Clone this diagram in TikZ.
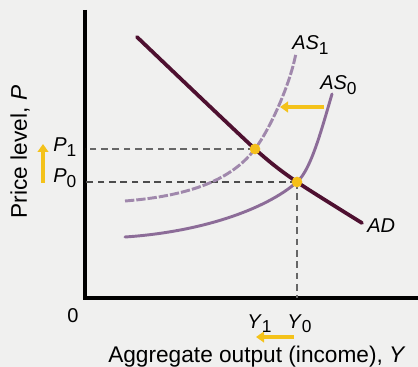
\documentclass[tikz,border=0pt]{standalone}
\usepackage{fontspec}
\setmainfont{Liberation Sans}
\usetikzlibrary{arrows.meta}
\definecolor{bgpaper}{HTML}{F0F0EF}
\definecolor{adcol}{HTML}{4E1030}
\definecolor{ascol}{HTML}{8C6C98}
\definecolor{asshift}{HTML}{A088AC}
\definecolor{shiftyel}{HTML}{F4C21A}
\newcommand{\sublab}[2]{\textit{#1}\raisebox{-0.45ex}{\fontsize{13}{14}\selectfont #2}}
\tikzset{
  axs/.style={line width=3pt, black},
  adln/.style={line width=2.8pt, adcol, line cap=round},
  asln/.style={line width=2.2pt, ascol, line cap=round},
  asdsh/.style={line width=2.2pt, asshift, dash pattern=on 7pt off 1.5pt},
  guide/.style={gray!80!black, line width=0.9pt, dash pattern=on 5pt off 3.5pt},
  shft/.style={-{Triangle[length=6pt,width=8pt]}, line width=3.2pt, shiftyel},
  eqpt/.style={circle, fill=shiftyel!95!orange, inner sep=0pt, minimum size=8pt},
  lbl/.style={font=\fontsize{15}{17}\selectfont, inner sep=0pt},
  ttl/.style={font=\fontsize{17}{19}\selectfont, inner sep=0pt},
}
\begin{document}
\begin{tikzpicture}[x=0.75pt, y=-0.75pt]
  \fill[bgpaper] (0,0) rectangle (418,367);
  \useasboundingbox (0,0) rectangle (418,367);
  % axes
  \coordinate (orig) at (85,298);
  \coordinate (ytop) at (85,10);
  \coordinate (xend) at (418,298);
  \draw[axs] (ytop) -- (orig) -- (xend);
  % equilibrium points
  \coordinate (E1) at (255,149);
  \coordinate (E0) at (297,182);
  % guide lines
  \draw[guide] (E1) -- (E1 -| orig);
  \draw[guide, line width=1.3pt, gray!60!black] (E0) -- (E0 -| orig);
  \draw[guide] (E0) -- (E0 |- orig);
  % AS curves
  \draw[asdsh] (125,201) .. controls (200,195) and (235,175) .. (E1)
    .. controls (270,129) and (290,85) .. (296,53);
  \draw[asln] (125,237) .. controls (200,232) and (265,210) .. (E0)
    .. controls (311,170) and (322,128) .. (332,94);
  % AD curve
  \draw[adln] plot[smooth, tension=0.4] coordinates {(137,37) (E1) (E0) (362,223)};
  \node[eqpt] (e1) at (E1) {};
  \node[eqpt] (e0) at (E0) {};
  % shifts
  \coordinate (asA) at (324,107);
  \coordinate (asB) at (280,107);
  \draw[shft] (asA) -- (asB);
  \coordinate (pA) at (43,183);
  \coordinate (pB) at (43,144);
  \draw[shft, line width=2.6pt] (pA) -- (pB);
  \coordinate (yA) at (294,337);
  \coordinate (yB) at (256,337);
  \draw[shft, line width=2.6pt] (yA) -- (yB);
  % labels
  \node[lbl, anchor=base west] (as1) at (292,50) {\sublab{AS}{1}};
  \node[lbl, anchor=base west] (as0) at (320,90) {\sublab{AS}{0}};
  \node[lbl, anchor=base west] (ad) at (367,233) {\textit{AD}};
  \node[lbl, anchor=base west] (p1) at (53,152) {\sublab{P}{1}};
  \node[lbl, anchor=base west] (p0) at (53,183) {\sublab{P}{0}};
  \node[lbl, anchor=base west] (y1) at (247,328) {\sublab{Y}{1}};
  \node[lbl, anchor=base west] (y0) at (287,328) {\sublab{Y}{0}};
  \node[lbl, anchor=base] (zero) at (73,322) {0};
  \node[ttl, rotate=90] (ytl) at (20,152) {Price level, \textit{P}};
  \node[ttl, anchor=base] (xtl) at (257,362) {Aggregate output (income), \textit{Y}};
\end{tikzpicture}
\end{document}
